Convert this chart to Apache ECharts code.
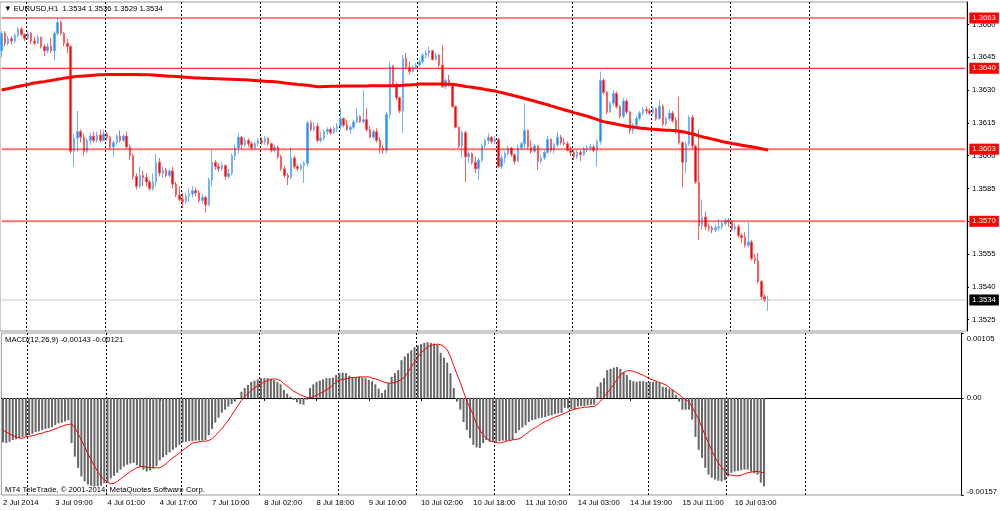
<!DOCTYPE html>
<html>
<head>
<meta charset="utf-8">
<script src="https://cdn.jsdelivr.net/npm/echarts@6/dist/echarts.min.js"></script>
<style>
html, body { margin: 0; padding: 0; background: #fff; }
#chart { width: 1000px; height: 511px; }
</style>
</head>
<body>
<div id="chart"></div>
<script>
// EURUSD H1, prices in pips above 1.3500, one value per bar (2 Jul 18:00 .. 16 Jul 12:00)
var firstOpen = 148;
var closes = [
  156, 151.5, 153.5, 152.5, 155, 158, 155.5, 153.5, 156, 152.5,
  151.5, 154, 150, 148, 150, 148, 156, 161, 156, 151.5,
  150, 102, 108, 111, 108.5, 102, 107, 109, 107, 109.5,
  107, 110, 108.5, 104, 106, 109, 107, 109, 104, 100,
  90.5, 86, 91, 90, 88, 85, 88, 97, 92, 93.5,
  91, 93, 87, 82, 80, 79, 81.5, 82.5, 84, 83,
  79.5, 81, 77.5, 89, 97, 95, 94, 95.5, 90.5, 92,
  100, 103.5, 108.5, 105, 107, 105.5, 103.5, 105.5, 107, 106,
  108, 105.5, 102.5, 104, 99.5, 94, 91, 90, 99, 95,
  94, 95.5, 96.5, 115, 112, 113.5, 107, 108, 111, 112,
  110.5, 112.5, 113.5, 117, 114, 112, 113, 115.5, 118, 115.5,
  116.5, 112, 108.5, 111, 107, 103.5, 102.5, 119, 141, 132.5,
  126.5, 120.5, 144.5, 140.5, 138.5, 140.5, 141.5, 143, 146, 147,
  148, 144, 146, 141.5, 131.5, 134.5, 132.5, 122.5, 113, 104.5,
  110.5, 99.5, 101, 97, 94, 98, 104.5, 107, 108.5, 106.5,
  107.5, 95, 99, 101, 103.5, 100.5, 97.5, 103.5, 105.5, 111.5,
  104, 102, 104.5, 97.5, 99, 101.5, 107.5, 102.5, 105, 108.5,
  106, 105.5, 102.5, 101.5, 99.5, 101.5, 100.5, 103, 103.5, 104,
  102.5, 106.5, 134.5, 129, 120, 124, 128.5, 122.5, 118, 125,
  120, 111.5, 114, 117, 119.5, 121, 120.5, 119.5, 121.5, 117,
  122.5, 114.5, 117, 119.5, 116, 111, 106, 97, 105.5, 117.5,
  104.5, 88, 68, 72, 67.5, 67, 66, 67, 67.5, 69,
  70.5, 70, 66.5, 67.5, 63.5, 62.5, 59, 60.5, 53, 52,
  42.5, 35.5, 33.8, 34
];
var highs = [
  157, 157, 155, 154.5, 156, 159, 159, 156, 157, 156.5,
  154.5, 155, 154.5, 151, 151.5, 154, 157, 163, 162, 156.5,
  153.5, 150.5, 110, 120.5, 112, 110, 108, 110.5, 111, 111,
  112, 112, 111, 109, 107, 110, 111.5, 110, 111, 105,
  101, 92, 95, 93, 92, 89, 92, 101, 99, 95,
  94.5, 94, 95, 88, 86, 83, 83, 85, 86, 85.5,
  84, 82.5, 81.5, 90, 102.5, 98, 96.5, 97, 96, 94,
  101, 105, 110.5, 109, 108.5, 108, 106.5, 106.5, 108, 108.5,
  109, 108.5, 106, 105, 104.5, 100.5, 95.5, 92, 104, 100,
  96, 96.5, 97.5, 116, 116, 115.5, 115, 111, 112, 113,
  113, 113.5, 115, 122, 117.5, 116.5, 114, 116.5, 122, 118.5,
  130, 122, 113.5, 112, 112.5, 108.5, 105, 120, 143, 141.5,
  133.5, 127, 146, 147, 143, 141.5, 142.5, 144, 147, 148.5,
  150, 148.5, 147, 146.5, 150.5, 135.5, 137, 133, 123, 113.5,
  111.5, 111.5, 102, 101.5, 99.5, 99, 105.5, 108, 110.5, 109,
  109, 108, 100.5, 102, 104.5, 104, 101, 105, 106.5, 124,
  112, 107, 105.5, 105, 100.5, 102.5, 109, 108, 106, 111,
  109.5, 108, 106.5, 104, 102.5, 102.5, 102.5, 104, 105, 105.5,
  105, 107.5, 138.5, 135.5, 129.5, 125, 130, 129.5, 123, 126.5,
  126, 120.5, 115, 118, 120.5, 122, 122.5, 121.5, 122.5, 122,
  125.5, 123.5, 118, 121, 120.5, 117.5, 127, 106.5, 106.5, 118.5,
  118.5, 105, 112, 80, 74.5, 69, 68, 68.5, 71, 70.5,
  71.5, 71.5, 70.5, 69, 68.5, 64.5, 65, 69.5, 61.5, 55,
  55.5, 43, 36.5, 36
];
var lows = [
  145, 150, 150.5, 151, 151.5, 154, 154.5, 152.5, 153, 151,
  150.5, 151, 149, 145.5, 147, 147, 143.5, 155, 155, 150,
  147, 101, 95, 102, 106, 100, 101, 105, 106, 106,
  106, 106.5, 107, 103, 99.5, 105, 106, 106, 103.5, 98,
  89, 84.5, 85, 86, 86, 84, 84, 86, 90.5, 90,
  90, 90, 85, 81, 79, 76, 78, 79, 81, 81.5,
  78.5, 78, 74, 77, 86, 93.5, 92.5, 93, 89, 89.5,
  91, 98, 101, 103, 104, 104, 102.5, 103, 104.5, 105,
  105, 104.5, 101.5, 101.5, 98.5, 93, 90, 86.5, 89, 94,
  93, 93, 87.5, 95, 111, 111, 106, 106, 107, 109.5,
  109.5, 110, 111, 112, 113, 111.5, 110, 112, 115, 115,
  114.5, 111, 108, 107.5, 106, 101, 101, 101, 117, 131.5,
  125.5, 119.5, 110.5, 139.5, 137, 138, 139.5, 140.5, 142, 144.5,
  145, 143.5, 143.5, 140.5, 131, 130.5, 131.5, 122, 112.5, 103.5,
  99, 88, 96.5, 96, 92, 89, 97, 103.5, 105.5, 105.5,
  105, 94.5, 94, 96.5, 100, 99.5, 96, 97, 102.5, 103,
  103, 101, 101.5, 93.5, 96.5, 98, 101, 101.5, 101, 104,
  105, 104.5, 102, 100, 98, 98.5, 97.5, 100, 101.5, 102,
  101.5, 95, 105, 128, 119, 119.5, 123, 121.5, 117, 117,
  119, 110, 110, 113, 116, 118.5, 119, 118.5, 118.5, 116,
  116.5, 113.5, 113.5, 116, 115, 110, 105, 85.5, 92, 104.5,
  103, 87, 61.5, 66, 66, 65.5, 64.5, 65, 65.5, 66,
  68, 67.5, 65.5, 65.5, 62.5, 60, 58, 58, 52, 50.5,
  41.5, 34, 33, 29
];
// moving average drawn on the price panel, pips above 1.3500
var maLine = [
  130.1, 130.4, 130.7, 131.0, 131.4, 131.7, 132.0, 132.3, 132.6, 133.0,
  133.3, 133.5, 133.7, 133.9, 134.2, 134.4, 134.7, 135.0, 135.2, 135.5,
  135.7, 135.9, 136.1, 136.3, 136.4, 136.5, 136.6, 136.7, 136.8, 136.9,
  137.0, 137.0, 137.1, 137.1, 137.1, 137.1, 137.1, 137.1, 137.1, 137.1,
  137.1, 137.1, 137.0, 137.0, 137.0, 137.0, 136.9, 136.8, 136.7, 136.6,
  136.5, 136.4, 136.3, 136.2, 136.1, 136.0, 135.9, 135.8, 135.7, 135.6,
  135.5, 135.4, 135.4, 135.3, 135.3, 135.2, 135.2, 135.1, 135.1, 135.0,
  135.0, 134.9, 134.9, 134.8, 134.7, 134.6, 134.5, 134.4, 134.3, 134.2,
  134.1, 134.0, 133.9, 133.8, 133.7, 133.5, 133.3, 133.1, 132.9, 132.8,
  132.6, 132.5, 132.4, 132.2, 132.0, 131.8, 131.6, 131.6, 131.7, 131.7,
  131.8, 131.8, 131.8, 131.9, 131.9, 131.9, 131.9, 131.9, 131.9, 131.9,
  131.9, 131.9, 132.0, 132.0, 132.0, 132.0, 132.0, 132.0, 132.0, 132.0,
  132.0, 132.1, 132.2, 132.3, 132.4, 132.5, 132.6, 132.8, 132.8, 132.8,
  132.8, 132.8, 132.8, 132.8, 132.8, 132.7, 132.7, 132.7, 132.5, 132.2,
  132.0, 131.7, 131.5, 131.3, 131.1, 130.9, 130.6, 130.3, 130.1, 129.8,
  129.6, 129.2, 128.9, 128.5, 128.1, 127.8, 127.4, 127.0, 126.6, 126.2,
  125.8, 125.4, 125.0, 124.5, 124.1, 123.7, 123.3, 122.8, 122.4, 121.9,
  121.5, 121.0, 120.6, 120.2, 119.7, 119.3, 118.9, 118.5, 118.1, 117.6,
  117.1, 116.6, 116.0, 115.6, 115.3, 115.0, 114.7, 114.4, 114.1, 113.8,
  113.5, 113.3, 113.1, 112.9, 112.7, 112.5, 112.4, 112.2, 112.1, 112.0,
  111.9, 111.8, 111.7, 111.6, 111.5, 111.4, 111.2, 111.0, 110.7, 110.3,
  110.0, 109.6, 109.1, 108.7, 108.3, 108.0, 107.6, 107.3, 106.9, 106.5,
  106.2, 105.9, 105.6, 105.4, 105.1, 104.8, 104.6, 104.3, 104.1, 103.8,
  103.5, 103.2, 102.9, 102.6
];
// MACD(12,26,9) histogram and signal, units of 0.00001
var macdMain = [
  -72, -73, -71, -68, -67, -65, -63, -62, -60, -58,
  -55, -54, -52, -50, -49, -47, -44, -41, -40, -38,
  -36, -73, -95, -113, -127, -135, -140, -142, -143, -143,
  -142, -138, -136, -130, -126, -121, -116, -111, -108, -106,
  -105, -109, -112, -116, -119, -117, -114, -110, -101, -96,
  -92, -88, -84, -80, -76, -72, -71, -70, -70, -69,
  -69, -69, -68, -60, -50, -40, -32, -24, -19, -14,
  -10, -6, 0, 10, 16, 21, 26, 28, 30, 32,
  32, 32, 31, 29, 26, 22, 13, 7, 2, -3,
  -7, -10, -11, -3, 16, 22, 26, 28, 30, 32,
  32, 33, 37, 40, 41, 40, 36, 34, 34, 34,
  33, 32, 29, 27, 22, 15, 8, 13, 24, 34,
  40, 45, 61, 67, 72, 77, 82, 85, 87, 89,
  90, 89, 88, 86, 73, 65, 57, 40, 16, -6,
  -19, -39, -52, -65, -76, -80, -81, -73, -68, -71,
  -70, -71, -70, -69, -69, -68, -68, -57, -52, -48,
  -44, -39, -36, -35, -33, -32, -31, -29, -28, -26,
  -25, -24, -16, -17, -18, -19, -14, -13, -13, -12,
  -11, -11, 18, 25, 32, 45, 47, 49, 50, 47,
  42, 37, 29, 27, 26, 27, 27, 26, 26, 26,
  26, 25, 18, 17, 15, 13, 5, -6, -19, -19,
  -19, -35, -63, -84, -97, -113, -124, -129, -132, -134,
  -135, -133, -127, -121, -119, -118, -117, -116, -116, -119,
  -122, -124, -137, -143
];
var macdSignal = [
  -52, -55, -58, -61, -63, -65, -65, -63, -62, -61,
  -60, -58, -57, -55, -54, -52, -50, -48, -46, -44,
  -43, -42, -48, -58, -68, -79, -90, -100, -110, -119,
  -127, -132, -136, -139, -138, -135, -131, -127, -123, -119,
  -116, -113, -111, -111, -112, -113, -113, -113, -113, -110,
  -106, -101, -97, -93, -89, -85, -81, -77, -73, -72,
  -71, -70, -70, -69, -66, -61, -55, -50, -43, -36,
  -28, -20, -12, -4, 2, 7, 12, 16, 20, 23,
  26, 28, 30, 31, 30, 28, 23, 19, 15, 11,
  8, 5, 3, 1, 0, 2, 4, 7, 10, 13,
  16, 21, 26, 29, 30, 31, 32, 33, 33, 34,
  34, 34, 34, 32, 31, 29, 27, 25, 24, 24,
  25, 27, 30, 34, 42, 50, 58, 66, 73, 78,
  82, 85, 86, 87, 86, 83, 78, 67, 52, 38,
  25, 10, -5, -16, -28, -43, -52, -60, -65, -69,
  -71, -72, -73, -72, -70, -69, -68, -67, -66, -63,
  -59, -55, -51, -48, -45, -41, -38, -36, -33, -31,
  -29, -27, -25, -22, -20, -18, -17, -16, -15, -15,
  -14, -14, -10, -5, 2, 8, 15, 22, 30, 37,
  41, 44, 44, 43, 41, 39, 37, 34, 31, 29,
  27, 25, 23, 21, 17, 13, 9, 5, 1, -3,
  -6, -15, -25, -35, -48, -61, -73, -85, -96, -105,
  -112, -118, -124, -125, -126, -126, -125, -123, -121, -120,
  -119, -119, -120, -121
];

var timeLabels = ['2 Jul 2014', '3 Jul 09:00', '4 Jul 01:00', '4 Jul 17:00', '7 Jul 10:00',
  '8 Jul 02:00', '8 Jul 18:00', '9 Jul 10:00', '10 Jul 02:00', '10 Jul 18:00',
  '11 Jul 10:00', '14 Jul 03:00', '14 Jul 19:00', '15 Jul 11:00', '16 Jul 03:00'];
var labelBars = [0, 16, 32, 48, 64, 80, 96, 112, 128, 144, 160, 176, 192, 208, 224];
var separatorBars = [8, 32, 55, 79, 103, 127, 151, 174, 198, 222, 246];
var priceTicks = [1.3525, 1.3540, 1.3555, 1.3570, 1.3585, 1.3600, 1.3615, 1.3630, 1.3645, 1.3660];
var macdTicks = [-0.00157, 0, 0.00105];
var redLevels = [1.3663, 1.3640];
var softLevels = [1.3603, 1.3570];
var lastPrice = 1.3534;
var slotCount = 294;

var font = 'Liberation Sans';
var fs = 7.7;

function toPrice(p) {
  return +(1.35 + p / 10000).toFixed(5);
}
function inList(list) {
  return function(idx) {
    return list.indexOf(idx) >= 0;
  };
}

var candles = closes.map(function(c, i) {
  var o = i === 0 ? firstOpen : closes[i - 1];
  return [toPrice(o), toPrice(c), toPrice(lows[i]), toPrice(highs[i])];
});
var slots = [];
for (var s = 0; s < slotCount; s++) slots.push(String(s));

// a horizontal level from the first slot to the last one, tagged on the price scale
function levelSeries(v, color, width, bg) {
  return {
    type: 'line', xAxisIndex: 0, yAxisIndex: 0, z: 4, silent: true,
    data: [[0, v], [slotCount - 1, v]],
    symbol: 'none', showSymbol: false,
    lineStyle: { color: color, width: width, type: 'solid' },
    endLabel: {
      show: true, distance: 4,
      formatter: v.toFixed(4),
      backgroundColor: bg, color: '#fff',
      padding: [2, 3, 1, 3], fontSize: fs, fontFamily: font
    }
  };
}

var dotted = { show: true, interval: inList(separatorBars), lineStyle: { color: '#000', width: 1, type: [2, 2] } };

var series = [
  { type: 'candlestick', name: 'EURUSD', xAxisIndex: 0, yAxisIndex: 0,
    data: candles, barWidth: 2,
    itemStyle: { color: '#1e90ff', color0: '#ff0000', borderColor: '#6cb4ff', borderColor0: '#ff5c5c', borderWidth: 1 } },
  { type: 'line', name: 'MA', xAxisIndex: 0, yAxisIndex: 0, z: 3,
    data: maLine.map(toPrice), symbol: 'none', showSymbol: false,
    lineStyle: { color: '#ff0000', width: 3 } },
  { type: 'bar', name: 'MACD', xAxisIndex: 1, yAxisIndex: 1,
    data: macdMain.map(function(v) { return v / 100000; }), barWidth: 2,
    itemStyle: { color: '#666666' } },
  { type: 'line', name: 'Signal', xAxisIndex: 1, yAxisIndex: 1, z: 3,
    data: macdSignal.map(function(v) { return v / 100000; }), symbol: 'none', showSymbol: false,
    lineStyle: { color: '#ff0000', width: 1 } }
];
redLevels.forEach(function(v) { series.push(levelSeries(v, '#ff0000', 1, '#ff0000')); });
softLevels.forEach(function(v) { series.push(levelSeries(v, 'rgba(255,0,0,0.55)', 2, '#ff0000')); });
series.push(levelSeries(lastPrice, '#c8c8c8', 1, '#000000'));

var chart = echarts.init(document.getElementById('chart'), null, { renderer: 'canvas' });
chart.setOption({
  animation: false,
  backgroundColor: '#fff',
  title: [
    { text: '\u25BC EURUSD,H1  1.3534 1.3536 1.3529 1.3534', left: 4, top: 5, padding: 0,
      textStyle: { fontSize: fs, fontWeight: 'normal', fontFamily: font, color: '#000' } },
    { text: 'MACD(12,26,9) -0.00143 -0.00121', left: 5, top: 336, padding: 0,
      textStyle: { fontSize: fs, fontWeight: 'normal', fontFamily: font, color: '#000' } },
    { text: 'MT4 TeleTrade, \u00A9 2001-2014, MetaQuotes Software Corp.', left: 5, top: 486, padding: 0,
      textStyle: { fontSize: fs, fontWeight: 'normal', fontFamily: font, color: '#000' } }
  ],
  grid: [
    { left: 0, right: 33, top: 2, height: 329, show: true, borderColor: '#9a9a9a', borderWidth: 1 },
    { left: 0, right: 33, top: 333, height: 162, show: true, borderColor: '#9a9a9a', borderWidth: 1 }
  ],
  xAxis: [
    { type: 'category', gridIndex: 0, data: slots, boundaryGap: true,
      axisLine: { show: false }, axisTick: { show: false }, axisLabel: { show: false },
      splitLine: dotted },
    { type: 'category', gridIndex: 1, data: slots, boundaryGap: true,
      axisLine: { show: true, lineStyle: { color: '#000', width: 1 } },
      axisTick: { show: true, alignWithLabel: true, interval: inList(labelBars), length: 3, lineStyle: { color: '#000' } },
      axisLabel: {
        interval: inList(labelBars), align: 'left', margin: 4,
        fontSize: fs, fontFamily: font, color: '#000',
        formatter: function(value, idx) {
          var k = labelBars.indexOf(idx);
          return k >= 0 ? timeLabels[k] : '';
        }
      },
      splitLine: dotted }
  ],
  yAxis: [
    { type: 'value', gridIndex: 0, position: 'right', min: 1.351982, max: 1.367032,
      axisLine: { show: true, lineStyle: { color: '#000' } },
      axisTick: { show: true, length: 2, customValues: priceTicks, lineStyle: { color: '#000' } },
      axisLabel: { customValues: priceTicks, margin: 5, fontSize: fs, fontFamily: font, color: '#000',
        formatter: function(v) { return v.toFixed(4); } },
      splitLine: { show: false } },
    { type: 'value', gridIndex: 1, position: 'right', min: -0.00157, max: 0.00105,
      axisLine: { show: true, lineStyle: { color: '#000' } },
      axisTick: { show: true, length: 2, customValues: macdTicks, lineStyle: { color: '#000' } },
      axisLabel: { customValues: macdTicks, margin: 5, fontSize: fs, fontFamily: font, color: '#000',
        formatter: function(v) {
          if (Math.abs(v) < 1e-9) return '0.00';
          return (v > 0 ? '{t|' : '{b|') + v.toFixed(5) + '}';
        },
        rich: {
          t: { fontSize: fs, fontFamily: font, color: '#000', padding: [11, 0, 0, 0] },
          b: { fontSize: fs, fontFamily: font, color: '#000', padding: [0, 0, 7, 0] }
        } },
      splitLine: { show: false } }
  ],
  series: series
});
</script>
</body>
</html>
